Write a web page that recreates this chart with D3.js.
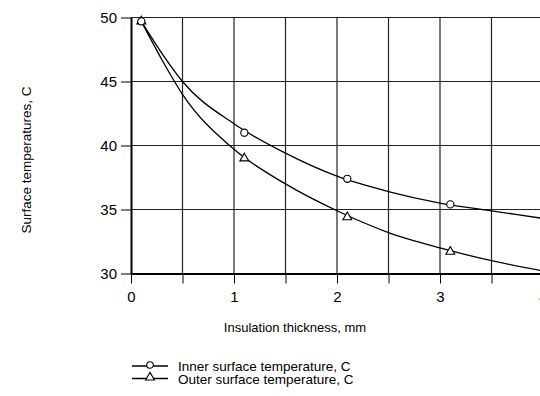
<!DOCTYPE html>
<html>
<head>
<meta charset="utf-8">
<script src="https://cdn.jsdelivr.net/npm/d3@7"></script>
<style>
  body { margin: 0; background: #fff; }
  text { font-family: Arial, "Liberation Sans", sans-serif; fill: #000; }
</style>
</head>
<body>
<div id="area"></div>
<script>
// readings from the picture
var curveX = [0.1, 0.3, 0.5, 1.0, 1.5, 2.0, 2.5, 3.0, 3.5, 4.0];
var innerCurve = [49.7, 47.2, 45.0, 41.7, 39.4, 37.6, 36.4, 35.5, 34.9, 34.3];
var outerCurve = [49.7, 46.7, 44.0, 39.7, 37.0, 34.9, 33.2, 32.0, 31.0, 30.2];

var markX = [0.1, 1.1, 2.1, 3.1];
var innerMarks = [49.7, 41.0, 37.4, 35.4];
var outerMarks = [49.7, 39.0, 34.4, 31.7];

var xTicks = [0, 1, 2, 3, 4];
var xGrid = [0.5, 1, 1.5, 2, 2.5, 3, 3.5, 4];
var xMinor = [0, 0.5, 1, 1.5, 2, 2.5, 3, 3.5, 4];
var yTicks = [30, 35, 40, 45, 50];

var seriesNames = ["Inner surface temperature, C", "Outer surface temperature, C"];

var margin = {top: 17.5, left: 131},
    width = 412,
    height = 256;

var svg = d3.select("#area")
    .append("svg")
        .attr("width", 540)
        .attr("height", 396);

var chart = svg.append("g")
    .attr("transform", "translate(" + margin.left + "," + margin.top + ")");

var x = d3.scaleLinear()
    .domain([0, 4])
    .range([0, width]);

var y = d3.scaleLinear()
    .domain([30, 50])
    .range([height, 0]);

// grid
chart.selectAll(".vgrid")
    .data(xGrid)
    .enter()
    .append("line")
    .attr("x1", function(d) { return x(d); })
    .attr("x2", function(d) { return x(d); })
    .attr("y1", 0)
    .attr("y2", height)
    .attr("stroke", "#222")
    .attr("stroke-width", 1.2);

chart.selectAll(".hgrid")
    .data(yTicks)
    .enter()
    .append("line")
    .attr("x1", 0)
    .attr("x2", width)
    .attr("y1", function(d) { return y(d); })
    .attr("y2", function(d) { return y(d); })
    .attr("stroke", "#222")
    .attr("stroke-width", 1.2);

// axes
var xAxis = chart.append("g")
    .attr("transform", "translate(0," + height + ")")
    .call(d3.axisBottom(x).tickValues(xMinor).tickSize(10).tickSizeOuter(0)
        .tickFormat(function(d) { return xTicks.indexOf(d) >= 0 ? d3.format("d")(d) : ""; }));

var yAxis = chart.append("g")
    .call(d3.axisLeft(y).tickValues(yTicks).tickSize(10).tickSizeOuter(0).tickFormat(d3.format("d")));

[xAxis, yAxis].forEach(function(a) {
    a.select(".domain").attr("stroke", "#000").attr("stroke-width", 2);
    a.selectAll(".tick line").attr("stroke", "#000").attr("stroke-width", 1);
    a.selectAll(".tick text")
        .style("font-size", "15px")
        .style("font-family", "Arial, 'Liberation Sans', sans-serif")
        .attr("fill", "#000");
});
xAxis.selectAll(".tick text").attr("y", 18).attr("dy", "0.71em");
yAxis.selectAll(".tick text").attr("x", -14);

// curves
var line = d3.line()
    .x(function(d) { return x(d[0]); })
    .y(function(d) { return y(d[1]); })
    .curve(d3.curveMonotoneX);

[innerCurve, outerCurve].forEach(function(vals) {
    chart.append("path")
        .datum(curveX.map(function(v, i) { return [v, vals[i]]; }))
        .attr("fill", "none")
        .attr("stroke", "#000")
        .attr("stroke-width", 1.3)
        .attr("d", line);
});

var tri = d3.symbol().type(d3.symbolTriangle).size(34);

chart.selectAll(".outer")
    .data(markX.map(function(v, i) { return [v, outerMarks[i]]; }))
    .enter()
    .append("path")
    .attr("d", tri)
    .attr("transform", function(d) { return "translate(" + x(d[0]) + "," + y(d[1]) + ")"; })
    .attr("fill", "#fff")
    .attr("stroke", "#000")
    .attr("stroke-width", 1.1);

chart.selectAll(".inner")
    .data(markX.map(function(v, i) { return [v, innerMarks[i]]; }))
    .enter()
    .append("circle")
    .attr("cx", function(d) { return x(d[0]); })
    .attr("cy", function(d) { return y(d[1]); })
    .attr("r", 3.6)
    .attr("fill", "#fff")
    .attr("stroke", "#000")
    .attr("stroke-width", 1.1);

// titles
svg.append("text")
    .attr("x", 295)
    .attr("y", 332)
    .attr("text-anchor", "middle")
    .style("font-size", "13px")
    .text("Insulation thickness, mm");

svg.append("text")
    .attr("transform", "rotate(-90)")
    .attr("x", -160)
    .attr("y", 31)
    .attr("text-anchor", "middle")
    .style("font-size", "13.5px")
    .text("Surface temperatures, C");

// legend
var legend = svg.append("g").attr("transform", "translate(132,366)");
seriesNames.forEach(function(name, i) {
    var row = legend.append("g").attr("transform", "translate(0," + (i * 12.5) + ")");
    row.append("line")
        .attr("x1", 0).attr("x2", 36)
        .attr("y1", 0).attr("y2", 0)
        .attr("stroke", "#000")
        .attr("stroke-width", 1.3);
    if (i == 0) {
        row.append("circle").attr("cx", 18).attr("cy", -1).attr("r", 3.3)
            .attr("fill", "#fff").attr("stroke", "#000").attr("stroke-width", 1.1);
    } else {
        row.append("path").attr("d", tri).attr("transform", "translate(18,-1)")
            .attr("fill", "#fff").attr("stroke", "#000").attr("stroke-width", 1.1);
    }
    row.append("text")
        .attr("x", 46)
        .attr("y", 5)
        .style("font-size", "13.5px")
        .text(name);
});
</script>
</body>
</html>
